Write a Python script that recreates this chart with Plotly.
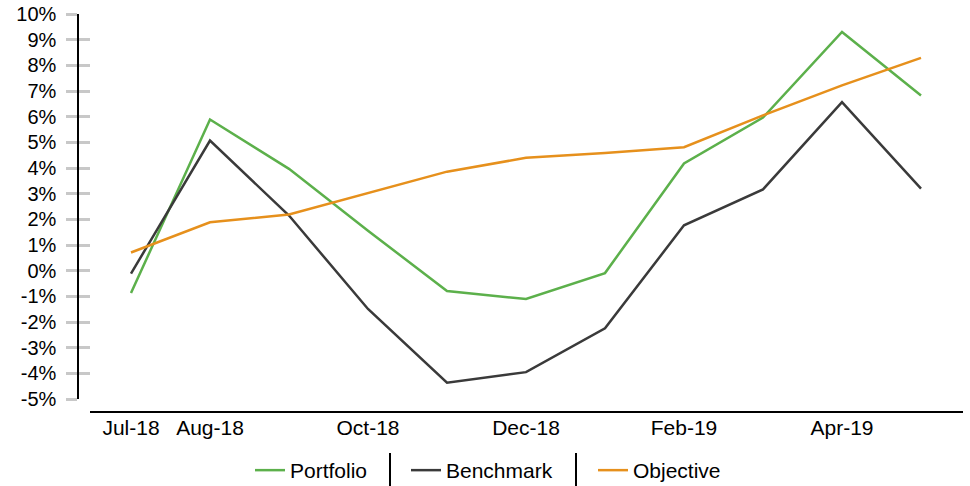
import plotly.graph_objects as go

months = ["Jul-18", "Aug-18", "Sep-18", "Oct-18", "Nov-18", "Dec-18",
          "Jan-19", "Feb-19", "Mar-19", "Apr-19", "May-19"]
tick_months = ["Jul-18", "Aug-18", "Oct-18", "Dec-18", "Feb-19", "Apr-19"]

portfolio = [-0.87, 5.89, 3.97, 1.56, -0.79, -1.10, -0.09, 4.18, 5.97, 9.30, 6.83]
benchmark = [-0.11, 5.07, 2.15, -1.49, -4.36, -3.95, -2.24, 1.77, 3.17, 6.57, 3.20]
objective = [0.71, 1.89, 2.19, 3.02, 3.86, 4.40, 4.59, 4.81, 6.05, 7.22, 8.29]

y_ticks = list(range(-5, 11))
y_tick_text = [f"{v}%" for v in y_ticks]

GREEN = "#5cb04b"
DARK = "#3a3a3a"
ORANGE = "#e6901c"

W = 970
REF_H = 486
H = 491  # the photographed viewport is slightly taller than 486 and squeezed to fit
FONT = "Liberation Sans, Arial, sans-serif"
FS = 21
FS_Y = 20


def px_x(v):
    return v / W


def px_y(v):
    return 1 - v / REF_H


fig = go.Figure()
fig.add_trace(go.Scatter(x=months, y=portfolio, name="Portfolio", mode="lines",
                         line=dict(color=GREEN, width=2.5), legend="legend"))
fig.add_trace(go.Scatter(x=months, y=benchmark, name="Benchmark", mode="lines",
                         line=dict(color=DARK, width=2.5), legend="legend2"))
fig.add_trace(go.Scatter(x=months, y=objective, name="Objective", mode="lines",
                         line=dict(color=ORANGE, width=2.5), legend="legend3"))
# invisible trace to drive the inside tick marks on the overlay axis
fig.add_trace(go.Scatter(x=months, y=objective, yaxis="y2", mode="lines",
                         line=dict(width=0), opacity=0, showlegend=False, hoverinfo="skip"))

x0_px, x1_px = 90, 963
idx0_px, step_px = 131, 79
xr = [(x0_px - idx0_px) / step_px, (x1_px - idx0_px) / step_px]

ytop_px, ybot_px = 14, 398.3
ydom = [px_y(ybot_px), px_y(ytop_px)]
yaxis_px = 78.3

common_y = dict(range=[-5, 10], domain=ydom, tickvals=y_ticks, showgrid=False,
                zeroline=False, anchor="free", position=px_x(yaxis_px), automargin=False)

leg_y = px_y(470)

fig.update_layout(
    width=W, height=H,
    margin=dict(l=0, r=0, t=0, b=0),
    plot_bgcolor="white", paper_bgcolor="white",
    font=dict(family=FONT, size=FS, color="#000000"),
    hovermode=False,
    xaxis=dict(type="category", range=xr, domain=[px_x(x0_px), px_x(x1_px)],
               tickvals=tick_months, ticktext=tick_months, ticks="",
               showline=True, linecolor="#000000", linewidth=2,
               showgrid=False, zeroline=False, anchor="free",
               position=px_y(411), automargin=False,
               tickfont=dict(size=FS), ticklabelstandoff=-3),
    yaxis=dict(**common_y, ticktext=y_tick_text, ticks="outside", ticklen=11,
               tickwidth=2.5, tickcolor="#c8c8c8", showline=True,
               linecolor="#000000", linewidth=2, tickfont=dict(size=FS_Y),
               ticklabelstandoff=6, ticklabeloverflow="allow"),
    yaxis2=dict(**common_y, overlaying="y", side="left", ticks="inside",
                ticklen=11, tickwidth=2.5, tickcolor="#c8c8c8",
                showticklabels=False, showline=False),
    legend=dict(orientation="h", x=px_x(290 - 40), y=leg_y,
                xanchor="left", yanchor="middle", font=dict(size=FS),
                bgcolor="rgba(0,0,0,0)"),
    legend2=dict(orientation="h", x=px_x(446 - 40), y=leg_y,
                 xanchor="left", yanchor="middle", font=dict(size=FS),
                 bgcolor="rgba(0,0,0,0)"),
    legend3=dict(orientation="h", x=px_x(633 - 40), y=leg_y,
                 xanchor="left", yanchor="middle", font=dict(size=FS),
                 bgcolor="rgba(0,0,0,0)"),
    shapes=[
        dict(type="line", xref="paper", yref="paper", x0=px_x(390), x1=px_x(390),
             y0=px_y(452), y1=0, line=dict(color="#000000", width=2)),
        dict(type="line", xref="paper", yref="paper", x0=px_x(576), x1=px_x(576),
             y0=px_y(452), y1=0, line=dict(color="#000000", width=2)),
    ],
)

page_css = (
    "document.documentElement.style.margin='0px';"
    "document.documentElement.style.overflow='hidden';"
    "document.body.style.margin='0px';"
    "document.body.style.overflow='hidden';"
)

fig.write_html("out.html", config={"displayModeBar": False},
               post_script=page_css)
